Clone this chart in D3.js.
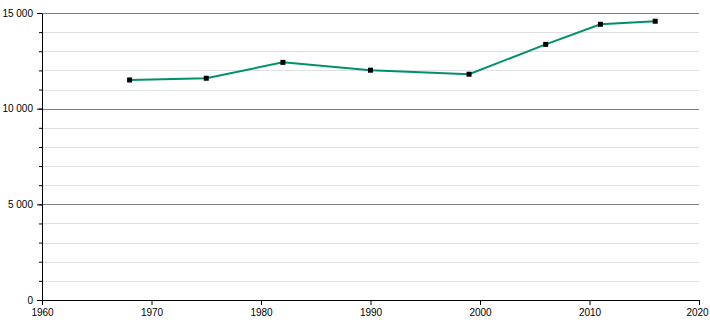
<!DOCTYPE html>
<html lang="en">
<head>
<meta charset="utf-8">
<title>Population</title>
<script src="https://d3js.org/d3.v7.min.js"></script>
<style>
    body { margin: 0; background: #fff; }
    text { font-family: "Liberation Sans", Arial, sans-serif; font-size: 10px; fill: #000; }
    .line { fill: none; stroke: #00906c; stroke-width: 2px; }
</style>
</head>
<body>
<svg width="710" height="320"></svg>
<script>
    var years = [1968, 1975, 1982, 1990, 1999, 2006, 2011, 2016];
    var population = [11500, 11590, 12420, 12010, 11800, 13360, 14410, 14570];
    var xTicks = [1960, 1970, 1980, 1990, 2000, 2010, 2020];
    var yMajor = [0, 5000, 10000, 15000];
    var yMinor = d3.range(0, 15001, 1000);

    var svg = d3.select("svg"),
        margin = {top: 13, right: 11, bottom: 20, left: 42},
        width = 710 - margin.left - margin.right,
        height = 320 - margin.top - margin.bottom,
        g = svg.append("g").attr("transform", "translate(" + margin.left + "," + margin.top + ")");

    var x = d3.scaleLinear().domain([1960, 2020]).range([0, width]),
        y = d3.scaleLinear().domain([0, 15000]).range([height, 0]);

    var fmt = function(d) { return d3.format(",")(d).replace(/,/g, " "); };

    // light grid every 1000
    g.selectAll(".minor")
        .data(yMinor.filter(function(d) { return d % 5000 != 0; }))
        .enter().append("line")
        .attr("x1", 0).attr("x2", width)
        .attr("y1", function(d) { return Math.round(y(d)) + 0.5; })
        .attr("y2", function(d) { return Math.round(y(d)) + 0.5; })
        .attr("stroke", "#e0e0e0");

    g.selectAll(".major")
        .data(yMajor.slice(1))
        .enter().append("line")
        .attr("x1", 0).attr("x2", width)
        .attr("y1", function(d) { return Math.round(y(d)) + 0.5; })
        .attr("y2", function(d) { return Math.round(y(d)) + 0.5; })
        .attr("stroke", "#808080");

    // y axis with minor ticks
    g.append("g")
        .call(d3.axisLeft(y).tickValues(yMinor).tickSize(3).tickFormat(""))
        .call(function(a) { a.select(".domain").remove(); });
    g.append("g")
        .call(d3.axisLeft(y).tickValues(yMajor).tickSize(5).tickSizeOuter(0).tickPadding(4).tickFormat(fmt))
        .call(function(a) { a.select(".domain").attr("stroke", "#000"); });

    g.append("g")
        .attr("transform", "translate(0," + height + ")")
        .call(d3.axisBottom(x).tickValues(xTicks).tickSize(5).tickSizeOuter(0).tickPadding(4).tickFormat(d3.format("d")))
        .call(function(a) {
            // keep the last label inside the picture
            a.selectAll(".tick text").filter(function(d) { return d == 2020; }).attr("dx", "-2");
        });

    var line = d3.line()
        .x(function(d, i) { return x(years[i]); })
        .y(function(d) { return y(d); });

    g.append("path")
        .datum(population)
        .attr("class", "line")
        .attr("d", line);

    g.selectAll(".pt")
        .data(population)
        .enter().append("rect")
        .attr("x", function(d, i) { return x(years[i]) - 2.5; })
        .attr("y", function(d) { return y(d) - 2.5; })
        .attr("width", 5).attr("height", 5)
        .attr("fill", "#000");
</script>
</body>
</html>
